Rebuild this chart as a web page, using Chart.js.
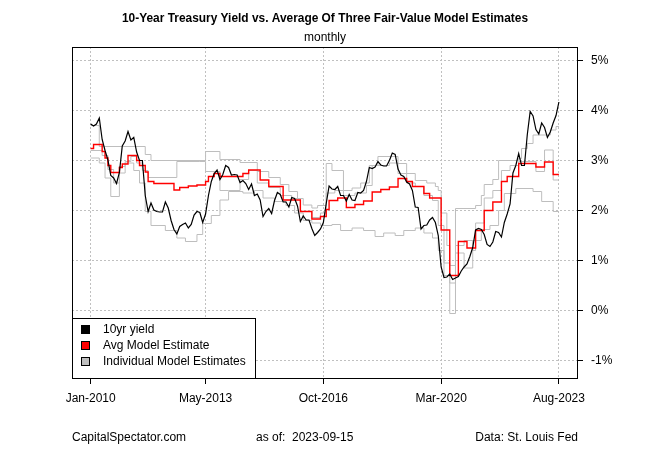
<!DOCTYPE html>
<html>
<head>
<meta charset="utf-8">
<script src="https://cdn.jsdelivr.net/npm/chart.js@4.4.0/dist/chart.umd.min.js"></script>
<style>
    html, body { margin: 0; padding: 0; background: #fff; }
    #wrap { width: 650px; height: 450px; }
</style>
</head>
<body>
<div id="wrap"><canvas id="chart" width="650" height="450"></canvas></div>
<script>
// month index 0 = Jan-2010, 163 = Aug-2023
const xTickMonths = [0, 40, 81, 122, 163]
const xTickLabels = ['Jan-2010', 'May-2013', 'Oct-2016', 'Mar-2020', 'Aug-2023']
const yTickValues = [-1, 0, 1, 2, 3, 4, 5]

// 10yr yield, one value per month
const yieldValues = [
    3.73, 3.69, 3.73, 3.85, 3.42, 3.20, 3.01, 2.70, 2.65, 2.54, 2.76, 3.29,
    3.39, 3.58, 3.41, 3.46, 3.17, 3.00, 3.00, 2.30, 1.98, 2.15, 2.01, 1.98,
    1.97, 1.97, 2.17, 2.05, 1.80, 1.62, 1.53, 1.68, 1.72, 1.75, 1.65, 1.72,
    1.91, 1.98, 1.96, 1.76, 1.93, 2.30, 2.58, 2.74, 2.81, 2.62, 2.72, 2.90,
    2.86, 2.71, 2.72, 2.71, 2.56, 2.60, 2.54, 2.42, 2.53, 2.30, 2.33, 2.21,
    1.88, 1.98, 2.04, 1.94, 2.20, 2.36, 2.32, 2.17, 2.17, 2.07, 2.26, 2.24,
    2.09, 1.78, 1.89, 1.81, 1.81, 1.64, 1.50, 1.56, 1.63, 1.76, 2.14, 2.49,
    2.43, 2.42, 2.48, 2.30, 2.30, 2.19, 2.32, 2.21, 2.20, 2.36, 2.35, 2.40,
    2.58, 2.86, 2.84, 2.87, 2.98, 2.91, 2.89, 2.89, 3.00, 3.15, 3.12, 2.83,
    2.71, 2.68, 2.57, 2.53, 2.40, 2.07, 2.06, 1.63, 1.70, 1.71, 1.81, 1.86,
    1.76, 1.50, 0.87, 0.66, 0.67, 0.73, 0.62, 0.65, 0.68, 0.79, 0.87, 0.93,
    1.08, 1.26, 1.61, 1.64, 1.62, 1.52, 1.32, 1.28, 1.37, 1.58, 1.56, 1.47,
    1.76, 1.93, 2.13, 2.75, 2.90, 3.14, 2.90, 2.90, 3.52, 3.98, 3.89, 3.62,
    3.53, 3.75, 3.66, 3.46, 3.57, 3.75, 3.90, 4.17
]

// model estimates change in steps: month where a new level starts, and the level
const avgMonths = [0, 1, 4, 5, 6, 7, 10, 11, 13, 16, 17, 19, 20, 22, 29, 31, 34, 37, 40, 41, 43, 45, 53, 55, 59, 62, 67, 73, 77, 80, 82, 83, 86, 89, 92, 95, 98, 101, 104, 107, 110, 112, 116, 118, 122, 125, 128, 131, 134, 137, 140, 143, 145, 149, 155, 158, 161, 163]
const avgValues = [3.24, 3.32, 3.18, 3.05, 2.90, 2.76, 2.86, 2.93, 3.10, 3.00, 2.90, 2.77, 2.58, 2.54, 2.41, 2.46, 2.49, 2.51, 2.58, 2.68, 2.74, 2.68, 2.74, 2.81, 2.61, 2.48, 2.21, 1.98, 1.83, 1.88, 2.02, 2.20, 2.25, 2.06, 2.12, 2.19, 2.37, 2.42, 2.47, 2.64, 2.58, 2.48, 2.34, 2.25, 1.61, 0.70, 1.38, 1.25, 1.60, 2.00, 2.17, 2.58, 2.68, 2.94, 2.87, 2.97, 2.72, 2.72]

const modelAMonths = [0, 3, 19, 21, 40, 45, 52, 58, 62, 66, 69, 72, 74, 77, 79, 82, 84, 88, 91, 94, 97, 100, 107, 110, 113, 117, 120, 121, 122, 124, 125, 127, 134, 136, 137, 140, 142, 149, 150, 152, 154, 160, 162, 163]
const modelAValues = [3.70, 3.28, 3.12, 3.00, 3.18, 3.02, 2.96, 2.78, 2.66, 2.52, 2.38, 2.24, 2.11, 2.05, 2.10, 2.94, 2.80, 2.40, 2.45, 2.55, 2.90, 3.08, 2.94, 2.74, 2.60, 2.55, 2.48, 2.40, 1.95, 1.30, 0.90, 2.04, 2.10, 2.30, 2.52, 2.62, 3.00, 3.04, 3.24, 3.34, 3.51, 3.61, 3.68, 3.68]

const modelBMonths = [0, 4, 6, 8, 10, 12, 14, 16, 18, 20, 30, 38, 40, 45, 48, 52, 55, 58, 62, 66, 70, 73, 77, 80, 82, 85, 88, 92, 96, 98, 104, 107, 110, 113, 116, 119, 121, 123, 125, 127, 130, 133, 134, 137, 140, 143, 146, 149, 155, 158, 161, 163]
const modelBValues = [3.20, 3.10, 2.82, 2.55, 2.88, 2.98, 3.08, 2.95, 2.80, 2.66, 2.98, 2.98, 2.78, 2.40, 2.40, 2.62, 2.80, 2.55, 2.46, 2.30, 2.24, 1.98, 1.86, 1.95, 2.35, 2.40, 2.30, 2.35, 2.50, 2.90, 2.95, 2.74, 2.55, 2.48, 2.30, 2.20, 1.70, 0.95, -0.06, 1.30, 1.40, 1.20, 1.75, 2.25, 2.40, 2.80, 2.90, 2.98, 2.78, 3.21, 2.61, 2.61]

const modelCMonths = [0, 3, 5, 7, 10, 12, 15, 17, 19, 21, 26, 30, 33, 37, 39, 42, 45, 48, 53, 57, 60, 64, 68, 71, 74, 77, 80, 84, 87, 91, 95, 99, 102, 106, 109, 113, 116, 119, 121, 123, 125, 127, 130, 133, 136, 139, 142, 144, 148, 154, 157, 161, 163]
const modelCValues = [3.05, 2.95, 2.65, 2.28, 2.75, 2.95, 2.80, 2.55, 1.98, 1.70, 1.60, 1.45, 1.38, 1.52, 1.74, 1.90, 2.21, 2.38, 2.35, 2.40, 2.25, 2.18, 2.10, 1.95, 1.80, 1.75, 1.70, 1.72, 1.60, 1.65, 1.60, 1.48, 1.55, 1.50, 1.60, 1.65, 1.55, 1.45, 1.20, 0.70, 0.55, 1.15, 0.85, 1.40, 1.62, 1.70, 2.00, 2.34, 2.44, 2.38, 2.18, 1.98, 1.98]

const FONT = '"Liberation Sans", Arial, sans-serif'

const toPoints = (months, values) => months.map((m, i) => ({ x: m, y: values[i] }))

const grayLine = (label, months, values) => ({
    label: label,
    data: toPoints(months, values),
    borderColor: '#bebebe',
    borderWidth: 1,
    stepped: true,
    pointRadius: 0
})

// титул, подписи внизу и легенда рисуются вручную
const textPlugin = {
    id: 'texts',
    afterDraw(chart) {
        const ctx = chart.ctx
        const area = chart.chartArea
        ctx.save()

        // рамка графика
        ctx.strokeStyle = '#000'
        ctx.lineWidth = 1
        ctx.strokeRect(area.left + 0.5, area.top + 0.5, area.right - area.left, area.bottom - area.top)

        ctx.fillStyle = '#000'
        ctx.textBaseline = 'middle'
        ctx.textAlign = 'center'
        ctx.font = 'bold 13px ' + FONT
        ctx.fillText('10-Year Treasury Yield vs. Average Of Three Fair-Value Model Estimates', 325, 18, 406)
        ctx.font = '12px ' + FONT
        ctx.fillText('monthly', 325, 38)

        // footer
        ctx.textAlign = 'left'
        ctx.fillText('CapitalSpectator.com', 72, 438)
        ctx.fillText('as of:  2023-09-15', 256, 438)
        ctx.textAlign = 'right'
        ctx.fillText('Data: St. Louis Fed', 578, 438)

        // legend
        const lx = area.left + 0.5
        const ly = 318.5
        ctx.fillStyle = '#fff'
        ctx.fillRect(lx, ly, 183, area.bottom - ly + 0.5)
        ctx.strokeRect(lx, ly, 183, area.bottom - ly + 0.5)
        const items = [['10yr yield', '#000'], ['Avg Model Estimate', '#ff0000'], ['Individual Model Estimates', '#bebebe']]
        ctx.textAlign = 'left'
        items.forEach((item, i) => {
            const y = 330 + i * 16
            ctx.fillStyle = item[1]
            ctx.fillRect(81.5, y - 4.5, 8, 8)
            ctx.strokeStyle = '#000'
            ctx.strokeRect(81.5, y - 4.5, 8, 8)
            ctx.fillStyle = '#000'
            ctx.fillText(item[0], 103, y)
        })
        ctx.restore()
    }
}

const ctx = document.getElementById('chart').getContext('2d')

const chart = new Chart(ctx, {
    type: 'line',
    data: {
        datasets: [
            {
                label: '10yr yield',
                data: yieldValues.map((v, i) => ({ x: i, y: v })),
                borderColor: '#000',
                borderWidth: 1.2,
                pointRadius: 0
            },
            {
                label: 'Avg Model Estimate',
                data: toPoints(avgMonths, avgValues),
                borderColor: '#ff0000',
                borderWidth: 1.4,
                stepped: true,
                pointRadius: 0
            },
            grayLine('Model A', modelAMonths, modelAValues),
            grayLine('Model B', modelBMonths, modelBValues),
            grayLine('Model C', modelCMonths, modelCValues)
        ]
    },
    options: {
        responsive: false,
        animation: false,
        devicePixelRatio: 1,
        events: [],
        layout: { padding: { left: 72, top: 47, right: 0, bottom: 0 } },
        plugins: {
            legend: { display: false },
            title: { display: false },
            tooltip: { enabled: false }
        },
        scales: {
            x: {
                type: 'linear',
                min: -6.5,
                max: 169.3,
                afterFit: (scale) => { scale.height = 72 },
                afterBuildTicks: (scale) => { scale.ticks = xTickMonths.map(v => ({ value: v })) },
                ticks: {
                    autoSkip: false,
                    maxRotation: 0,
                    padding: 7,
                    color: '#000',
                    font: { family: FONT, size: 12 },
                    callback: (v) => xTickLabels[xTickMonths.indexOf(v)]
                },
                grid: {
                    color: '#c0c0c0',
                    lineWidth: 1,
                    tickLength: 6,
                    tickColor: '#000',
                    tickWidth: 1
                },
                border: { display: false, dash: [2, 2] }
            },
            y: {
                position: 'right',
                min: -1.35,
                max: 5.27,
                afterFit: (scale) => { scale.width = 73 },
                afterBuildTicks: (scale) => { scale.ticks = yTickValues.map(v => ({ value: v })) },
                ticks: {
                    padding: 8,
                    color: '#000',
                    font: { family: FONT, size: 12 },
                    callback: (v) => v + '%'
                },
                grid: {
                    color: '#c0c0c0',
                    lineWidth: 1,
                    tickLength: 6,
                    tickColor: '#000',
                    tickWidth: 1
                },
                border: { display: false, dash: [2, 2] }
            }
        }
    },
    plugins: [textPlugin]
})
</script>
</body>
</html>
